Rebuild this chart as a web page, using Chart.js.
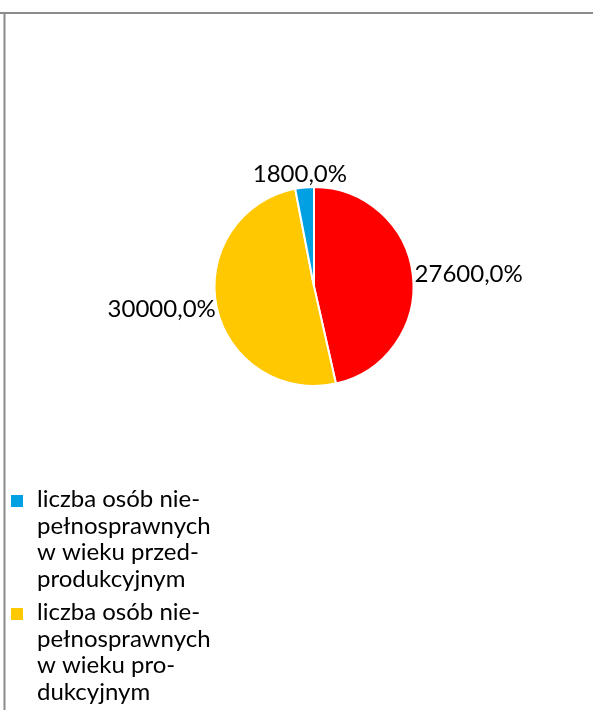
<!DOCTYPE html>
<html>
<head>
<meta charset="utf-8">
<script src="https://cdn.jsdelivr.net/npm/chart.js@4.4.1/dist/chart.umd.min.js"></script>
<style>
  html, body { margin: 0; padding: 0; background: #ffffff; }
  #wrap { position: relative; width: 593px; height: 710px; overflow: hidden; }
</style>
</head>
<body>
<div id="wrap"><canvas id="chart" width="593" height="710"></canvas></div>
<script>
// =============================================================================
// Data
// =============================================================================

// clockwise from 12 o'clock, as in the source sheet
const categories = [
  "liczba osób niepełnosprawnych w wieku poprodukcyjnym",
  "liczba osób niepełnosprawnych w wieku produkcyjnym",
  "liczba osób niepełnosprawnych w wieku przedprodukcyjnym",
];

// raw cell values, shown with a "0,0%" number format
const values = [276, 300, 18];

const sliceColors = ["#FF0000", "#FFC800", "#00A0E3"];

// legend text as wrapped in the source
const legendLines = [
  ["liczba osób nie-", "pełnosprawnych", "w wieku po-", "produkcyjnym"],
  ["liczba osób nie-", "pełnosprawnych", "w wieku pro-", "dukcyjnym"],
  ["liczba osób nie-", "pełnosprawnych", "w wieku przed-", "produkcyjnym"],
];

const FONT = "24px Lato, 'Open Sans', sans-serif";

/** Excel style percent format with a decimal comma */
function formatPercent(v) {
  return (v * 100).toFixed(1).replace(".", ",") + "%";
}

// =============================================================================
// Plugins
// =============================================================================

// plot area border (only top and left edges are in view)
const frame = {
  id: "frame",
  beforeDraw(chart) {
    const ctx = chart.ctx;
    ctx.save();
    ctx.strokeStyle = "#8c8c8c";
    ctx.lineWidth = 2;
    ctx.beginPath();
    ctx.moveTo(0, 13);
    ctx.lineTo(chart.width, 13);
    ctx.moveTo(4.5, 13);
    ctx.lineTo(4.5, chart.height);
    ctx.stroke();
    ctx.restore();
  },
};

// data labels at the outside end of each slice
const outsideLabels = {
  id: "outsideLabels",
  afterDatasetsDraw(chart) {
    const ctx = chart.ctx;
    const meta = chart.getDatasetMeta(0);
    const data = chart.data.datasets[0].data;
    ctx.save();
    ctx.font = FONT;
    ctx.fillStyle = "#000000";
    ctx.textBaseline = "middle";
    ctx.textAlign = "center";
    meta.data.forEach((arc, i) => {
      const { x, y, startAngle, endAngle, outerRadius } = arc.getProps(
        ["x", "y", "startAngle", "endAngle", "outerRadius"], true
      );
      const mid = (startAngle + endAngle) / 2;
      const r = outerRadius + 2;
      const px = x + Math.cos(mid) * r;
      const py = y + Math.sin(mid) * r;
      const text = formatPercent(data[i]);
      const w = ctx.measureText(text).width;
      const h = 22;
      const cx = px + Math.cos(mid) * w / 2;
      const cy = py + Math.sin(mid) * h / 2;
      ctx.fillText(text, cx, cy);
    });
    ctx.restore();
  },
};

// legend in reverse series order, multi-line entries
const wrappedLegend = {
  id: "wrappedLegend",
  afterDraw(chart) {
    const ctx = chart.ctx;
    const lineH = 26.5;
    const itemGap = 7;
    let baseY = 507;
    ctx.save();
    ctx.font = FONT;
    ctx.textBaseline = "alphabetic";
    ctx.textAlign = "left";
    for (let i = categories.length - 1; i >= 0; i--) {
      ctx.fillStyle = sliceColors[i];
      ctx.fillRect(11, baseY - 12, 12, 12);
      ctx.fillStyle = "#000000";
      legendLines[i].forEach((line, k) => {
        ctx.fillText(line, 37, baseY + k * lineH);
      });
      baseY += legendLines[i].length * lineH + itemGap;
    }
    ctx.restore();
  },
};

// =============================================================================
// Chart
// =============================================================================

new Chart(document.getElementById("chart"), {
  type: "pie",
  data: {
    labels: categories,
    datasets: [{
      data: values,
      backgroundColor: sliceColors,
      borderColor: "#ffffff",
      borderWidth: 2,
    }],
  },
  options: {
    responsive: false,
    animation: false,
    layout: {
      padding: { left: 213, right: 178, top: 186, bottom: 323 },
    },
    plugins: {
      legend: { display: false },
      tooltip: { enabled: false },
    },
  },
  plugins: [frame, outsideLabels, wrappedLegend],
});
</script>
</body>
</html>
